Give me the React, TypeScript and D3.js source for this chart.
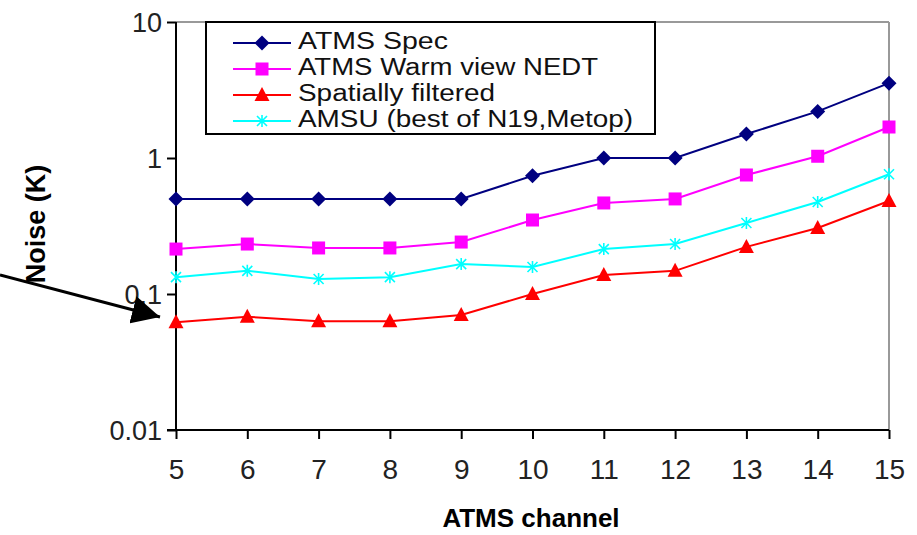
import React, { useEffect, useRef } from 'react';
import * as d3 from 'd3';

const channels = [5, 6, 7, 8, 9, 10, 11, 12, 13, 14, 15];
const atmsSpec = [0.5, 0.5, 0.5, 0.5, 0.5, 0.74, 1.0, 1.0, 1.5, 2.2, 3.55];
const warmView = [0.214, 0.233, 0.218, 0.218, 0.241, 0.35, 0.467, 0.5, 0.75, 1.03, 1.69];
const filtered = [0.062, 0.068, 0.063, 0.063, 0.07, 0.1, 0.138, 0.148, 0.222, 0.306, 0.483];
const amsu = [0.133, 0.148, 0.129, 0.133, 0.166, 0.158, 0.214, 0.233, 0.333, 0.475, 0.76];
const yTicks = [0.01, 0.1, 1, 10];
const yTickLabels = ['0.01', '0.1', '1', '10'];

const series = [
  { name: 'ATMS Spec', values: atmsSpec, color: '#000080', marker: 'diamond', textLen: 150 },
  { name: 'ATMS Warm view NEDT', values: warmView, color: '#ff00ff', marker: 'square', textLen: 300 },
  { name: 'Spatially filtered', values: filtered, color: '#ff0000', marker: 'triangle', textLen: 197 },
  { name: 'AMSU (best of N19,Metop)', values: amsu, color: '#00ffff', marker: 'star', textLen: 335 },
];

const FONT = '"Liberation Sans", Arial, sans-serif';

const drawMarker = (g, type, color, cx, cy) => {
  if (type === 'diamond') {
    g.append('path')
      .attr('d', `M${cx},${cy - 7.5}L${cx + 7.5},${cy}L${cx},${cy + 7.5}L${cx - 7.5},${cy}Z`)
      .attr('fill', color);
  } else if (type === 'square') {
    g.append('rect')
      .attr('x', cx - 6.5)
      .attr('y', cy - 6.5)
      .attr('width', 13)
      .attr('height', 13)
      .attr('fill', color);
  } else if (type === 'triangle') {
    g.append('path')
      .attr('d', `M${cx},${cy - 8}L${cx + 7.5},${cy + 6}L${cx - 7.5},${cy + 6}Z`)
      .attr('fill', color);
  } else {
    g.append('path')
      .attr('d', `M${cx - 5},${cy - 5}L${cx + 5},${cy + 5}M${cx - 5},${cy + 5}L${cx + 5},${cy - 5}M${cx},${cy - 6}L${cx},${cy + 6}`)
      .attr('stroke', color)
      .attr('stroke-width', 1.6)
      .attr('fill', 'none');
  }
};

const App = () => {
  const ref = useRef(null);

  useEffect(() => {
    const svg = d3.select(ref.current);
    svg.selectAll('*').remove();

    const x = d3.scaleLinear().domain([5, 15]).range([176, 889]);
    const y = d3.scaleLog().domain([0.01, 10]).range([430, 22]);

    // frame (top and right in grey)
    svg.append('line')
      .attr('x1', 176).attr('x2', 889).attr('y1', 22).attr('y2', 22)
      .attr('stroke', '#999').attr('stroke-width', 2);
    svg.append('line')
      .attr('x1', 889).attr('x2', 889).attr('y1', 22).attr('y2', 430)
      .attr('stroke', '#999').attr('stroke-width', 2);

    // y axis
    const yAxis = svg.append('g').attr('transform', 'translate(176,0)');
    yAxis.call(
      d3.axisLeft(y).tickValues(yTicks).tickSize(9).tickPadding(5)
        .tickFormat((d, i) => yTickLabels[i]),
    );
    yAxis.select('.domain').attr('stroke-width', 2).attr('d', 'M0,22V430');
    yAxis.selectAll('.tick line').attr('stroke-width', 2);
    yAxis.selectAll('.tick text')
      .attr('font-family', FONT).attr('font-size', 27).attr('fill', '#222')
      .attr('dy', '0.36em');

    // x axis
    const xAxis = svg.append('g').attr('transform', 'translate(0,430)');
    xAxis.call(d3.axisBottom(x).tickValues(channels).tickSize(9).tickPadding(20).tickFormat(d3.format('d')));
    xAxis.select('.domain').attr('stroke-width', 2).attr('d', 'M167,0H889');
    xAxis.selectAll('.tick line').attr('stroke-width', 2);
    xAxis.selectAll('.tick text')
      .attr('font-family', FONT).attr('font-size', 28).attr('fill', '#222');

    // axis titles
    svg.append('text')
      .attr('x', 531).attr('y', 527)
      .attr('text-anchor', 'middle')
      .attr('font-family', FONT).attr('font-weight', 'bold').attr('font-size', 26)
      .text('ATMS channel');
    svg.append('text')
      .attr('transform', 'translate(45,224) rotate(-90)')
      .attr('text-anchor', 'middle')
      .attr('font-family', FONT).attr('font-weight', 'bold').attr('font-size', 27)
      .text('Noise (K)');

    // series
    const line = d3.line().x((d, i) => x(channels[i])).y(d => y(d));
    series.forEach(s => {
      svg.append('path')
        .attr('d', line(s.values))
        .attr('fill', 'none')
        .attr('stroke', s.color)
        .attr('stroke-width', 2);
      const g = svg.append('g');
      s.values.forEach((v, i) => drawMarker(g, s.marker, s.color, x(channels[i]), y(v)));
    });

    // legend
    const legend = svg.append('g');
    legend.append('rect')
      .attr('x', 206).attr('y', 22).attr('width', 449).attr('height', 112)
      .attr('fill', '#fff').attr('stroke', '#000').attr('stroke-width', 2);
    series.forEach((s, i) => {
      const cy = 43 + i * 26;
      legend.append('line')
        .attr('x1', 233).attr('x2', 291).attr('y1', cy).attr('y2', cy)
        .attr('stroke', s.color).attr('stroke-width', 2);
      drawMarker(legend, s.marker, s.color, 262, cy);
      legend.append('text')
        .attr('x', 298).attr('y', cy + 6)
        .attr('font-family', FONT).attr('font-size', 23.5).attr('fill', '#111')
        .attr('textLength', s.textLen)
        .attr('lengthAdjust', 'spacingAndGlyphs')
        .text(s.name);
    });

    // arrow
    svg.append('defs').append('marker')
      .attr('id', 'arrowhead')
      .attr('viewBox', '0 0 10 10')
      .attr('refX', 10).attr('refY', 5)
      .attr('markerWidth', 28).attr('markerHeight', 28)
      .attr('markerUnits', 'userSpaceOnUse')
      .attr('orient', 'auto')
      .append('path').attr('d', 'M0,0L10,5L0,10Z').attr('fill', '#000');
    svg.append('line')
      .attr('x1', 0).attr('y1', 275).attr('x2', 160).attr('y2', 317)
      .attr('stroke', '#000').attr('stroke-width', 3)
      .attr('marker-end', 'url(#arrowhead)');
  }, []);

  return (
    <div style={{ position: 'fixed', left: 0, top: 0 }}>
      <svg ref={ref} width={917} height={535} style={{ display: 'block', background: '#fff' }} />
    </div>
  );
};

export default App;
